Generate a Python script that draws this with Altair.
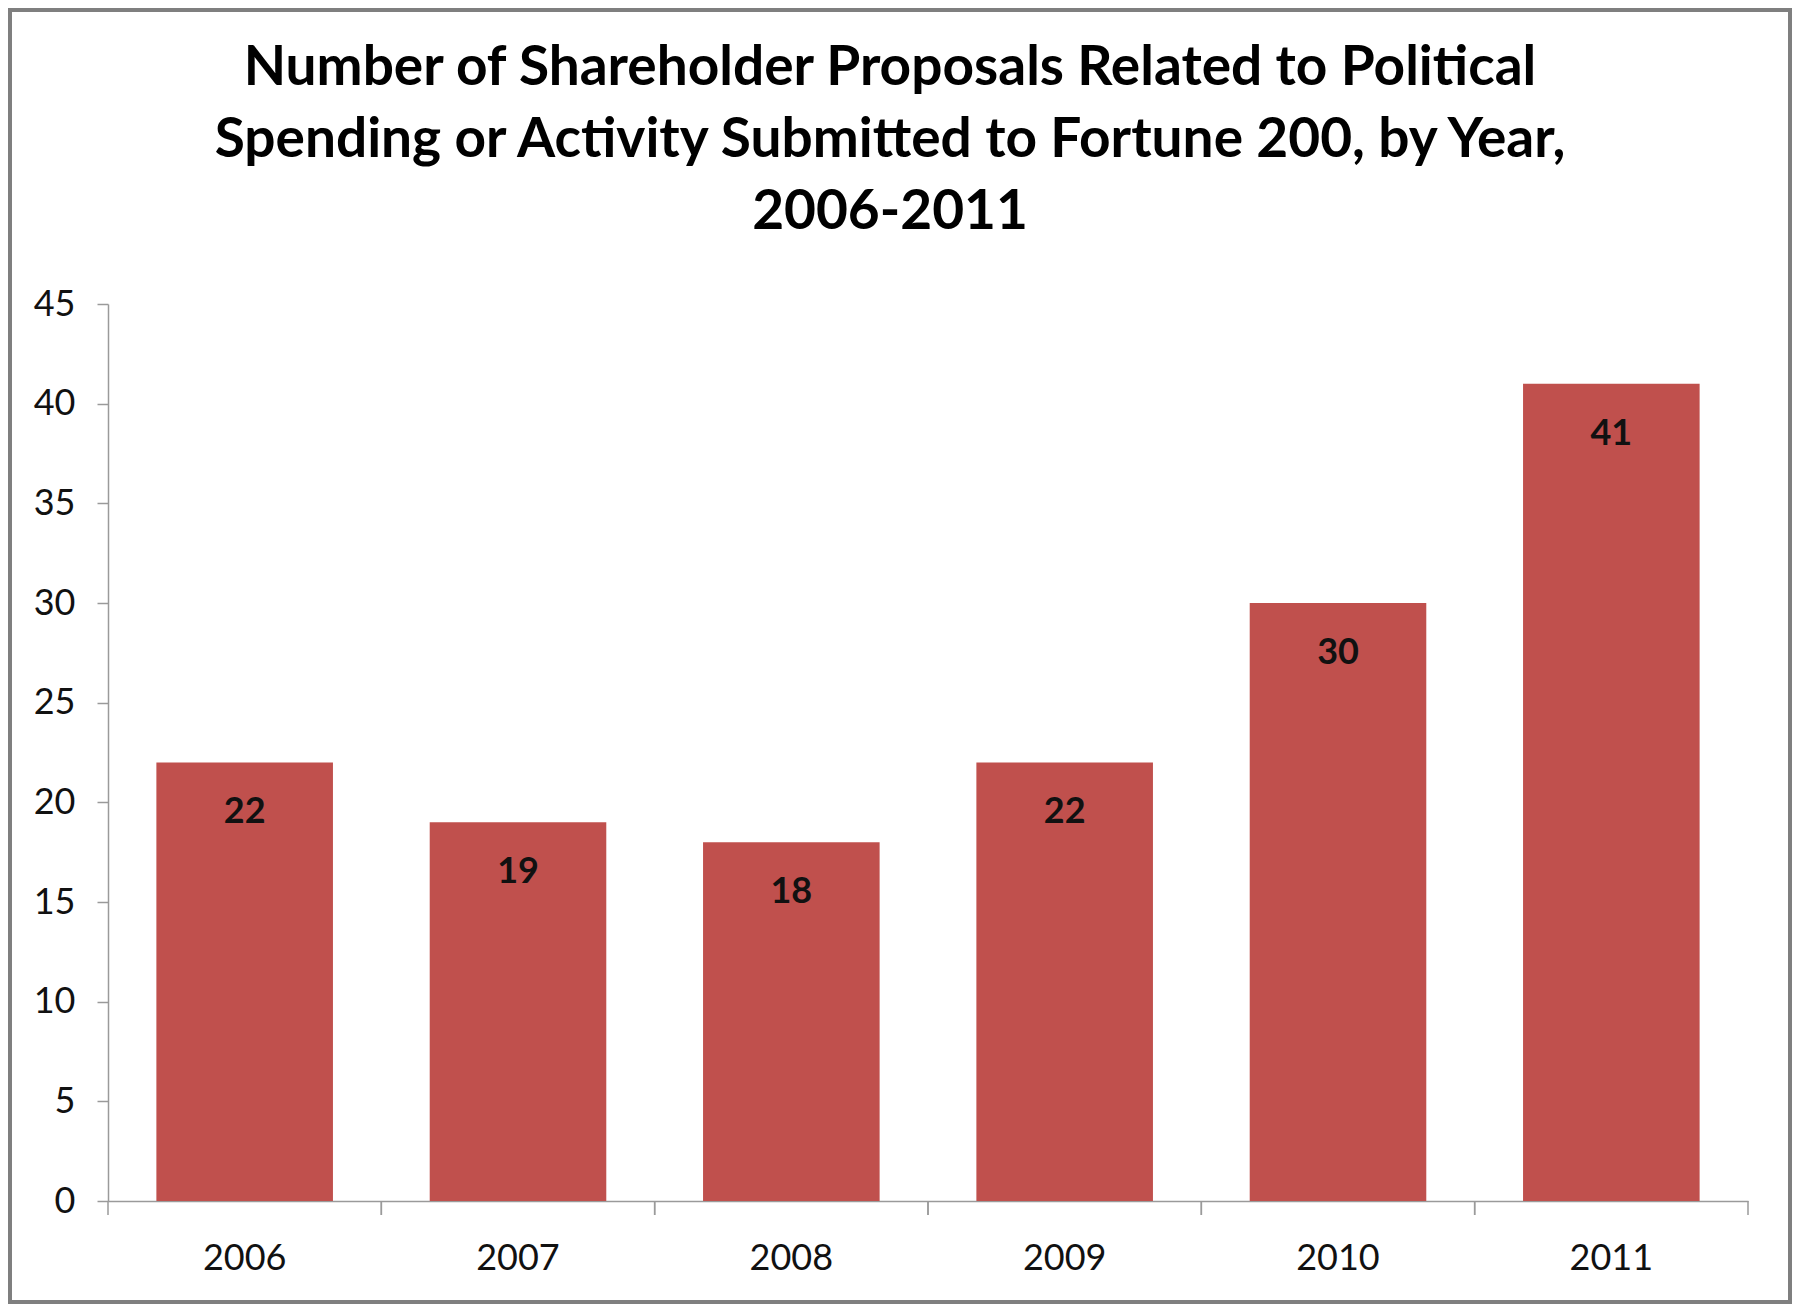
import altair as alt
import pandas as pd

years = ["2006", "2007", "2008", "2009", "2010", "2011"]
counts = [22, 19, 18, 22, 30, 41]
title_lines = [
    "Number of Shareholder Proposals Related to Political",
    "Spending or Activity Submitted to Fortune 200, by Year,",
    "2006-2011",
]
y_ticks = [0, 5, 10, 15, 20, 25, 30, 35, 40, 45]

df = pd.DataFrame({"year": years, "count": counts})

W, H = 1640, 897
PAD_L, PAD_T, PAD_R, PAD_B = 100, 296, 44, 103
FONT = "Lato"

xscale = alt.Scale(paddingInner=0, paddingOuter=0)
yscale = alt.Scale(domain=[0, 45], nice=False)

base = alt.Chart(df)

bars = base.mark_bar(color="#C0504D", width=alt.RelativeBandSize(0.646)).encode(
    x=alt.X(
        "year:O",
        scale=xscale,
        sort=years,
        axis=alt.Axis(
            title=None,
            labelAngle=0,
            ticks=False,
            domain=True,
            domainColor="#9a9a9a",
            domainWidth=1.5,
            labelFont=FONT,
            labelFontSize=36,
            labelColor="#111111",
            labelPadding=40,
        ),
    ),
    y=alt.Y(
        "count:Q",
        scale=yscale,
        axis=alt.Axis(
            title=None,
            values=y_ticks,
            grid=False,
            domainColor="#9a9a9a",
            domainWidth=1.5,
            tickColor="#9a9a9a",
            tickWidth=1.5,
            tickSize=11,
            labelFont=FONT,
            labelFontSize=36,
            labelColor="#111111",
            labelPadding=22,
        ),
    ),
)

labels = base.mark_text(
    font=FONT, fontSize=36, fontWeight="bold", color="#111111",
    baseline="middle", dy=50,
).encode(
    x=alt.X("year:O", scale=xscale, sort=years),
    y=alt.Y("count:Q", scale=yscale),
    text=alt.Text("count:Q"),
)

ticks_left = base.mark_rule(color="#9a9a9a", strokeWidth=1.5).encode(
    x=alt.X("year:O", scale=xscale, sort=years, bandPosition=0),
    y=alt.value(H),
    y2=alt.value(H + 14),
)
ticks_right = base.mark_rule(color="#9a9a9a", strokeWidth=1.5).encode(
    x=alt.X("year:O", scale=xscale, sort=years, bandPosition=1),
    y=alt.value(H),
    y2=alt.value(H + 14),
)

frame = alt.Chart(pd.DataFrame({"f": [0]})).mark_rect(
    fill=None, fillOpacity=0, stroke="#7f7f7f", strokeWidth=4
).encode(
    x=alt.value(-PAD_L + 2),
    x2=alt.value(W + PAD_R - 2),
    y=alt.value(-PAD_T + 2),
    y2=alt.value(H + PAD_B - 2),
)

chart = (
    alt.layer(bars, labels, ticks_left, ticks_right, frame)
    .properties(
        width=W,
        height=H,
        padding={"left": PAD_L, "top": PAD_T, "right": PAD_R, "bottom": PAD_B},
        autosize=alt.AutoSizeParams(type="none"),
        background="white",
        title=alt.TitleParams(
            text=title_lines,
            font=FONT,
            fontSize=55,
            fontWeight="bold",
            color="#000000",
            lineHeight=72,
            anchor="middle",
            frame="bounds",
            offset=0,
            dy=233,
            dx=-10,
        ),
    )
    .configure_view(stroke=None)
)

chart.save("out.html", embed_options={"renderer": "svg", "actions": False})
